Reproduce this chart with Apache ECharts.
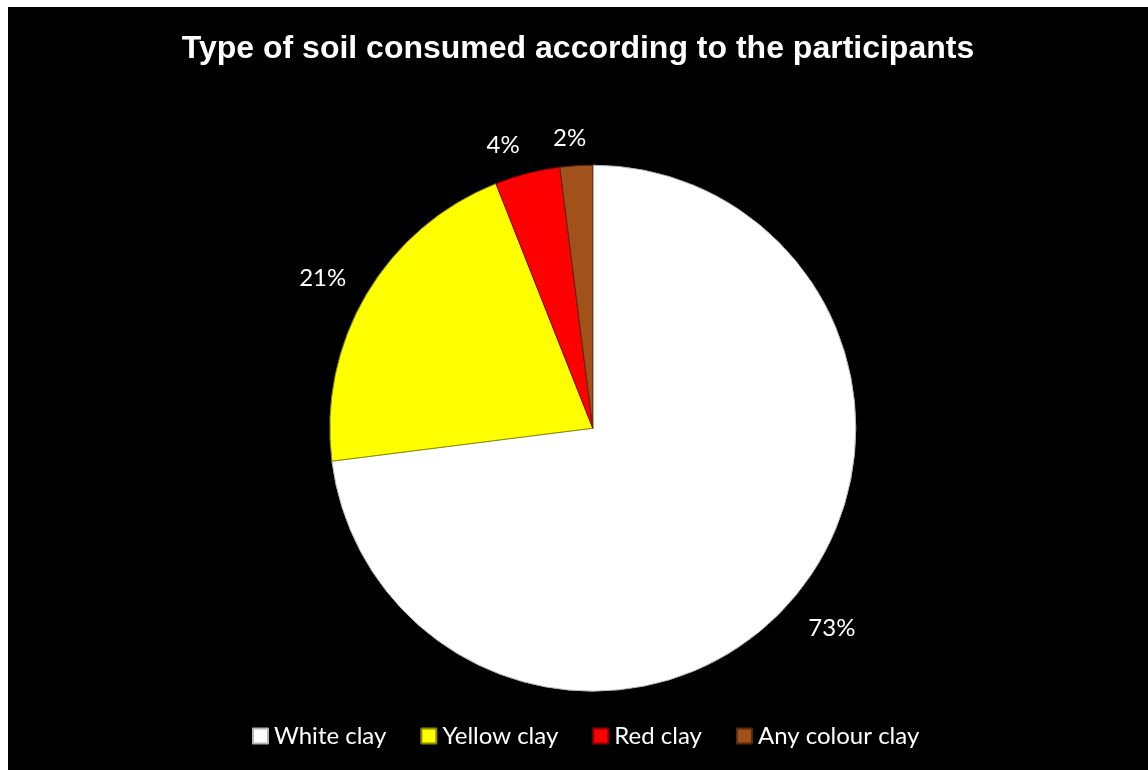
<!DOCTYPE html>
<html>
<head>
<meta charset="utf-8">
<script src="https://cdn.jsdelivr.net/npm/echarts@6/dist/echarts.min.js"></script>
<style>
  html, body { margin: 0; padding: 0; background: #ffffff; }
  #frame { position: absolute; left: 8px; top: 7px; width: 1140px; height: 763px; background: #000000; }
  #chart { width: 100%; height: 100%; }
</style>
</head>
<body>
<div id="frame"><div id="chart"></div></div>
<script>
// Soil types and share of participants (%)
const categories = ['White clay', 'Yellow clay', 'Red clay', 'Any colour clay'];
const shares = [73, 21, 4, 2];
const sliceColors = ['#ffffff', '#ffff00', '#ff0000', '#a0521a'];
const edgeColors = ['#b5b5b5', '#8a8a00', '#8f0000', '#5a2a0e'];

const chart = echarts.init(document.getElementById('chart'), null, { renderer: 'canvas' });

const pieData = categories.map((name, i) => ({
  name,
  value: shares[i],
  itemStyle: { color: sliceColors[i], borderColor: edgeColors[i], borderWidth: 1 }
}));

// small nudges for the percentage labels, by slice
const labelNudges = [
  { dx: -7, dy: 8 },
  { dx: 8, dy: -2 },
  { dx: 4, dy: -2 },
  { align: 'center' }
];

chart.setOption({
  backgroundColor: '#000000',
  animation: false,
  title: {
    text: 'Type of soil consumed according to the participants',
    left: 'center',
    top: 21,
    textStyle: { color: '#ffffff', fontFamily: 'Liberation Sans, Arial, sans-serif', fontWeight: 'bold', fontSize: 32 }
  },
  legend: {
    data: categories,
    bottom: 17,
    left: 239,
    itemWidth: 15,
    itemHeight: 15,
    itemGap: 34,
    icon: 'rect',
    textStyle: { color: '#ffffff', fontFamily: 'Lato, Carlito, sans-serif', fontSize: 24, padding: [0, 0, 0, 1] }
  },
  series: [{
    type: 'pie',
    center: ['51.3%', '55.2%'],
    radius: 263,
    startAngle: 90,
    clockwise: true,
    avoidLabelOverlap: false,
    data: pieData,
    label: {
      show: true,
      position: 'outside',
      formatter: p => p.value + '%',
      color: '#ffffff',
      fontFamily: 'Lato, Carlito, sans-serif',
      fontSize: 24,
      distanceToLabelLine: 5
    },
    labelLine: { show: false, length: 27, length2: 0 },
    labelLayout: p => labelNudges[p.dataIndex],
    emphasis: { disabled: true }
  }]
});
</script>
</body>
</html>
